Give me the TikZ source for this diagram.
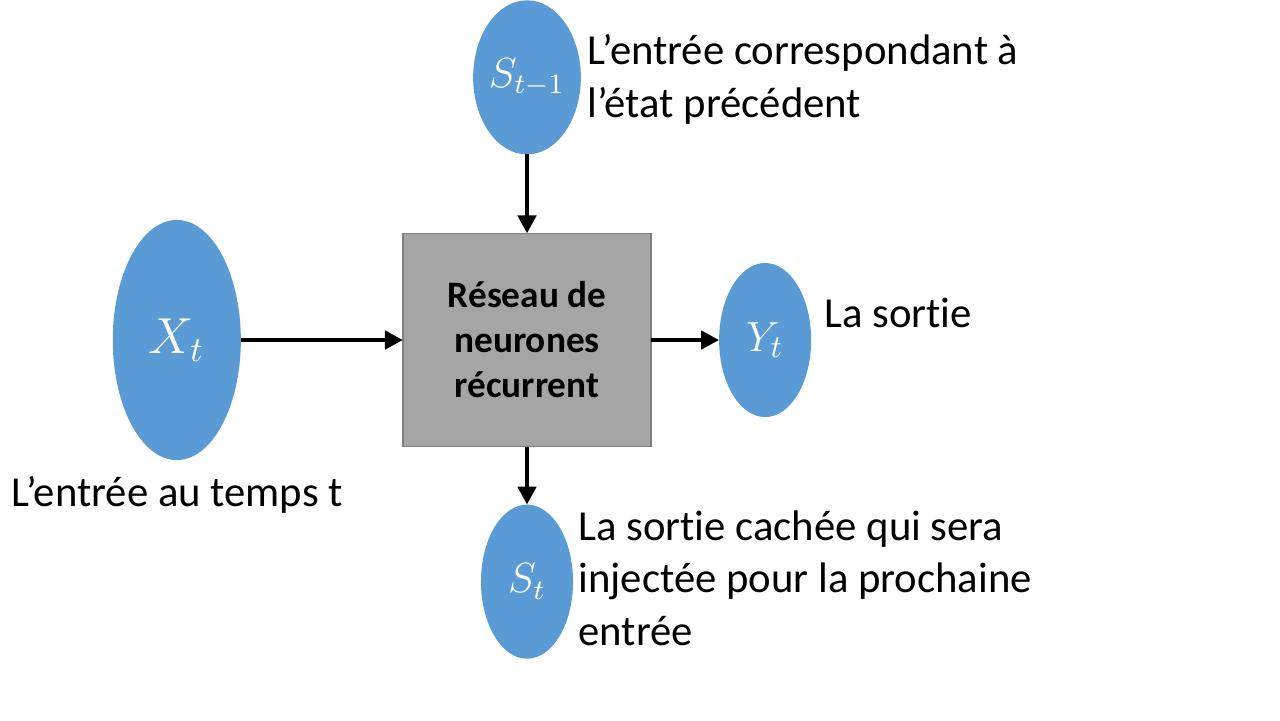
\documentclass[tikz,border=0pt]{standalone}
\usepackage{fontspec}
\setmainfont[Ligatures=NoCommon]{Carlito}
\usetikzlibrary{arrows.meta,shapes.geometric,positioning}
\definecolor{nodeblue}{HTML}{5B9BD5}
\definecolor{boxgray}{HTML}{A5A5A5}
\definecolor{boxline}{HTML}{7F7F7F}

\begin{document}
\begin{tikzpicture}[x=0.01cm,y=-0.01cm,
    ->,>={Triangle[length=0.18cm,width=0.18cm]},line width=1.4pt,
    neuron/.style={ellipse,fill=nodeblue,draw=none,inner sep=0pt,outer sep=0pt,text=white},
    big/.style={neuron,minimum width=1.28cm,minimum height=2.4cm,font=\fontsize{13.8pt}{13.8pt}\selectfont},
    small/.style={neuron,minimum width=0.92cm,minimum height=1.54cm},
    rnn/.style={rectangle,fill=boxgray,draw=boxline,line width=0.4pt,minimum width=2.48cm,minimum height=2.13cm,
      inner sep=0pt,outer sep=0pt,align=center,font=\fontsize{10.6pt}{12.8pt}\selectfont\bfseries},
    lbl/.style={inner sep=0pt,align=left,font=\fontsize{12.15pt}{14.8pt}\selectfont}]
	  \useasboundingbox (0,0) rectangle (1280,720);
	  \node[rnn] (rnn) at (527,340) {Réseau de\\neurones\\récurrent};
	  \node[big] (xin) [left=1.62cm of rnn] {$X_t$};
	  \node[small,font=\fontsize{11.8pt}{11.8pt}\selectfont] (sprev) [above=0.79cm of rnn] {$S_{t-1}$};
	  \node[small,font=\fontsize{13pt}{13pt}\selectfont] (yout) [right=0.68cm of rnn] {$Y_t$};
	  \node[small,font=\fontsize{12pt}{12pt}\selectfont] (scur) [below=0.58cm of rnn] {$S_t$};
	  \node[lbl,anchor=base west] (lprev) at (585,117) {L’entrée correspondant à\\l’état précédent};
	  \node[lbl,anchor=base west] (lout) at (822,327) {La sortie};
	  \node[lbl,anchor=base] (lin) at (177,506) {L’entrée au temps t};
	  \node[lbl,anchor=base west] (lcur) at (576,645) {La sortie cachée qui sera\\injectée pour la prochaine\\entrée};
	  \draw (xin) -- (rnn);
	  \draw (sprev) -- (rnn);
	  \draw (rnn) -- (yout);
	  \draw (rnn) -- (scur);
	\end{tikzpicture}
\end{document}
